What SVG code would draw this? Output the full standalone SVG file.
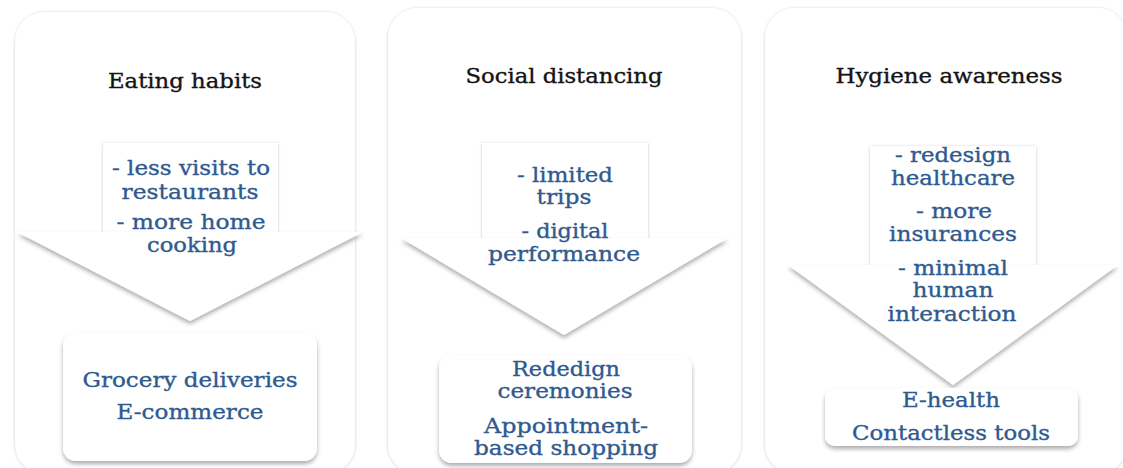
<svg xmlns="http://www.w3.org/2000/svg" width="1123" height="468" viewBox="0 0 1123 468">
  <defs>
    <filter id="soft" x="-10%" y="-10%" width="120%" height="120%">
      <feDropShadow dx="0" dy="0.5" stdDeviation="1.4" flood-color="#000" flood-opacity="0.22"/>
    </filter>
    <filter id="drop" x="-10%" y="-10%" width="120%" height="130%">
      <feDropShadow dx="0" dy="3" stdDeviation="2" flood-color="#000" flood-opacity="0.32"/>
    </filter>
    <style>
      .panel { fill: #fff; filter: url(#soft); }
      .inner { fill: #fff; filter: url(#soft); }
      .arrow { fill: #fff; filter: url(#drop); }
      .result { fill: #fff; filter: url(#drop); }
      text { font-family: "DejaVu Serif", "Liberation Serif", serif; font-size: 20.5px; text-anchor: middle; stroke-width: 0.35px; }
      .title { fill: #141414; stroke: #141414; }
      .item { fill: #2f5a8f; stroke: #2f5a8f; }
    </style>
  </defs>
  <rect width="1123" height="468" fill="#fff"/>

  <!-- Eating habits -->
  <g id="eating-habits">
    <rect class="panel" x="15" y="12" width="340" height="462" rx="30"/>
    <text class="title" x="185" y="88" textLength="154" lengthAdjust="spacingAndGlyphs">Eating habits</text>
    <rect class="inner" x="103" y="143" width="175" height="95"/>
    <polygon class="arrow" points="17,232 363,232 190,321"/>
    <text class="item" x="191" y="175" textLength="158" lengthAdjust="spacingAndGlyphs">- less visits to</text>
    <text class="item" x="190" y="199" textLength="137" lengthAdjust="spacingAndGlyphs">restaurants</text>
    <text class="item" x="191" y="229" textLength="149" lengthAdjust="spacingAndGlyphs">- more home</text>
    <text class="item" x="192" y="252" textLength="90" lengthAdjust="spacingAndGlyphs">cooking</text>
    <rect class="result" x="63" y="332" width="254" height="129" rx="13"/>
    <text class="item" x="190" y="387" textLength="215" lengthAdjust="spacingAndGlyphs">Grocery deliveries</text>
    <text class="item" x="190" y="419" textLength="147" lengthAdjust="spacingAndGlyphs">E-commerce</text>
  </g>

  <!-- Social distancing -->
  <g id="social-distancing">
    <rect class="panel" x="388" y="8" width="353" height="466" rx="30"/>
    <text class="title" x="564" y="83" textLength="197" lengthAdjust="spacingAndGlyphs">Social distancing</text>
    <rect class="inner" x="482" y="143" width="166" height="100"/>
    <polygon class="arrow" points="401,238 728,238 564,335"/>
    <text class="item" x="565" y="182" textLength="96" lengthAdjust="spacingAndGlyphs">- limited</text>
    <text class="item" x="564" y="204" textLength="55" lengthAdjust="spacingAndGlyphs">trips</text>
    <text class="item" x="565" y="238" textLength="87" lengthAdjust="spacingAndGlyphs">- digital</text>
    <text class="item" x="564" y="261" textLength="152" lengthAdjust="spacingAndGlyphs">performance</text>
    <rect class="result" x="439" y="355" width="253" height="108" rx="13"/>
    <text class="item" x="566" y="376" textLength="108" lengthAdjust="spacingAndGlyphs">Rededign</text>
    <text class="item" x="565" y="398" textLength="135" lengthAdjust="spacingAndGlyphs">ceremonies</text>
    <text class="item" x="566" y="433" textLength="164" lengthAdjust="spacingAndGlyphs">Appointment-</text>
    <text class="item" x="566" y="455" textLength="184" lengthAdjust="spacingAndGlyphs">based shopping</text>
  </g>

  <!-- Hygiene awareness -->
  <g id="hygiene-awareness">
    <rect class="panel" x="765" y="8" width="362" height="466" rx="30"/>
    <text class="title" x="949" y="83" textLength="227" lengthAdjust="spacingAndGlyphs">Hygiene awareness</text>
    <rect class="inner" x="870" y="146" width="166" height="125"/>
    <polygon class="arrow" points="788,265 1118,265 953,385"/>
    <text class="item" x="953" y="162" textLength="116" lengthAdjust="spacingAndGlyphs">- redesign</text>
    <text class="item" x="953" y="185" textLength="124" lengthAdjust="spacingAndGlyphs">healthcare</text>
    <text class="item" x="954" y="218" textLength="76" lengthAdjust="spacingAndGlyphs">- more</text>
    <text class="item" x="953" y="241" textLength="128" lengthAdjust="spacingAndGlyphs">insurances</text>
    <text class="item" x="953" y="275" textLength="110" lengthAdjust="spacingAndGlyphs">- minimal</text>
    <text class="item" x="953" y="297" textLength="81" lengthAdjust="spacingAndGlyphs">human</text>
    <text class="item" x="952" y="321" textLength="129" lengthAdjust="spacingAndGlyphs">interaction</text>
    <rect class="result" x="825" y="388" width="253" height="58" rx="10"/>
    <text class="item" x="951" y="407" textLength="98" lengthAdjust="spacingAndGlyphs">E-health</text>
    <text class="item" x="951" y="440" textLength="198" lengthAdjust="spacingAndGlyphs">Contactless tools</text>
  </g>

  <g id="connectors"/>
</svg>
